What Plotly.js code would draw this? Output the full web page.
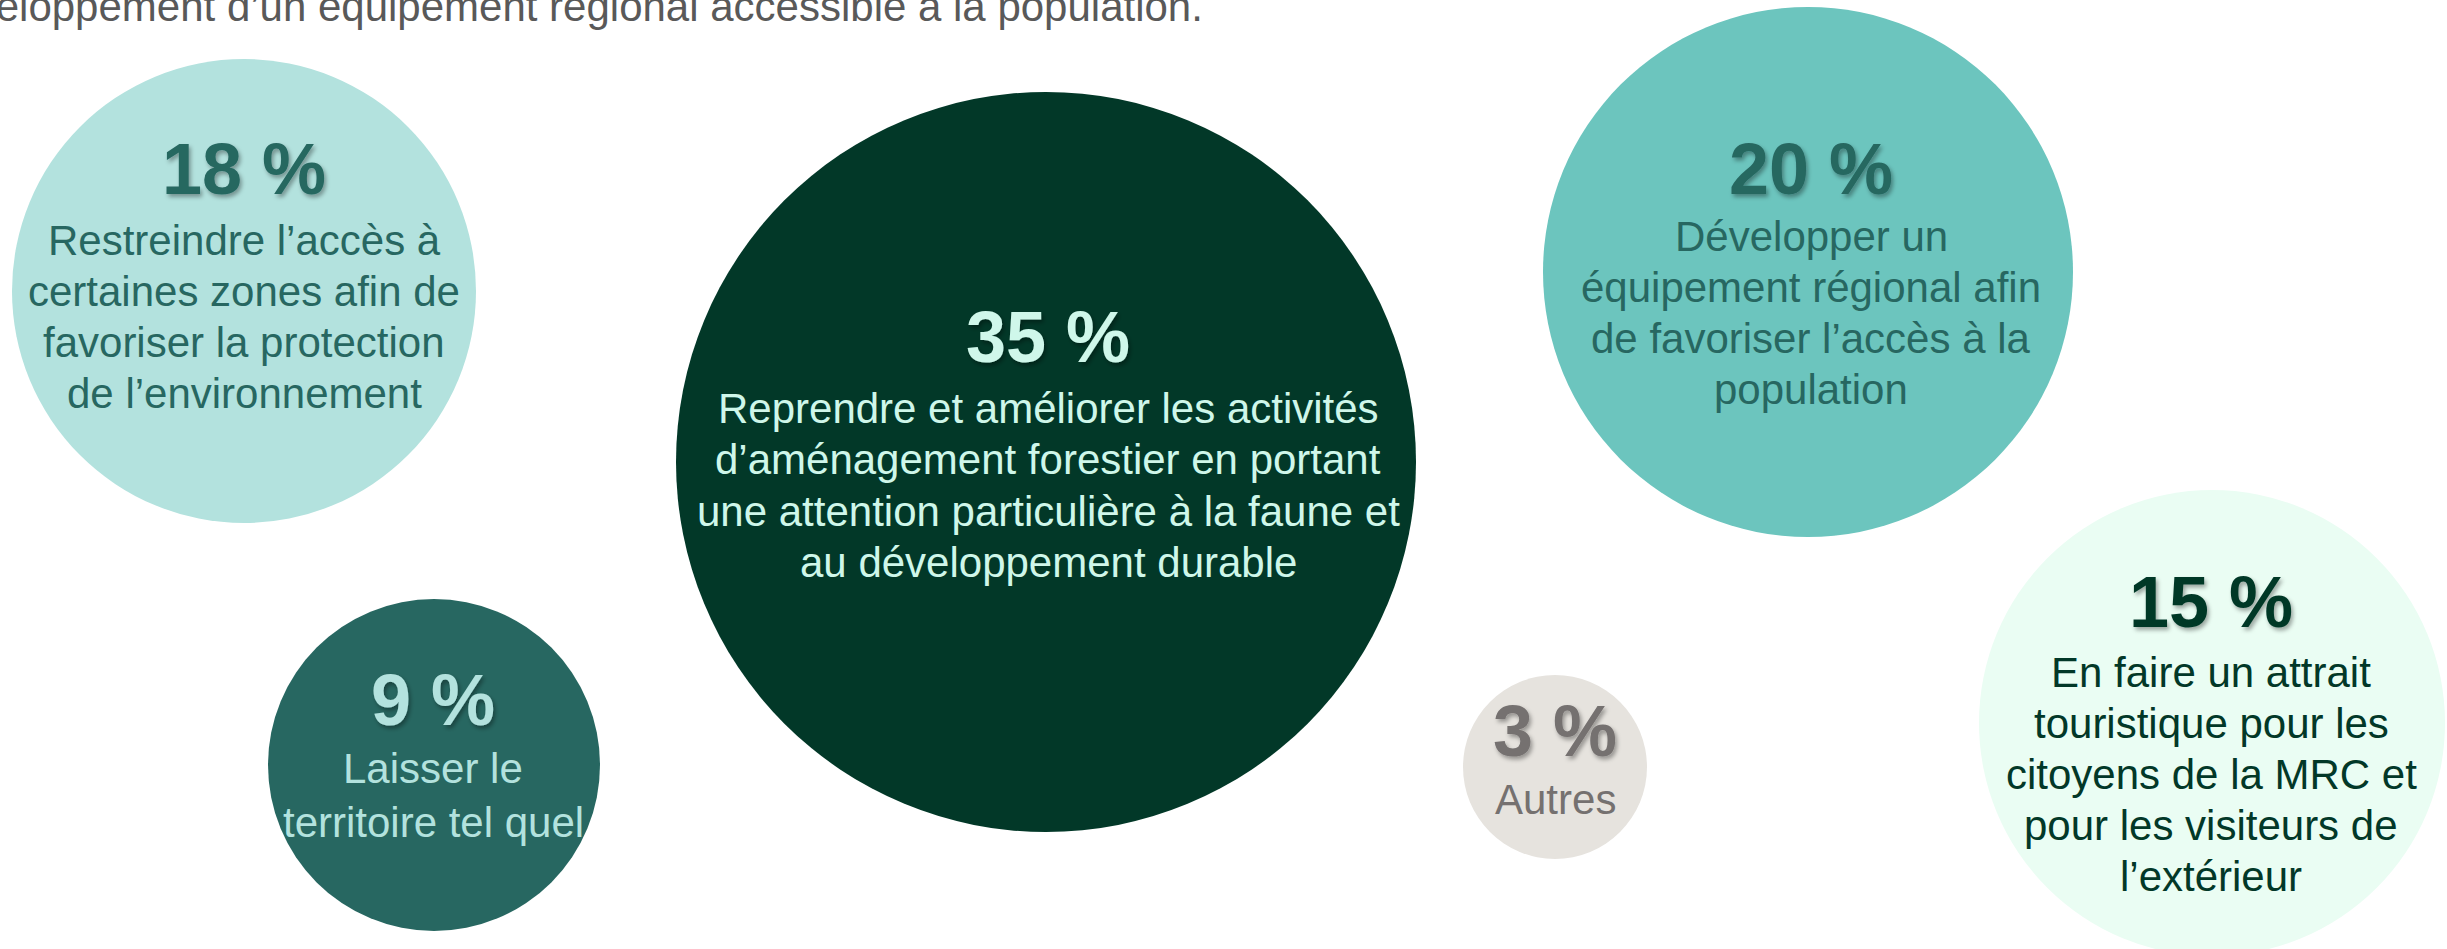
<!DOCTYPE html>
<html>
<head>
<meta charset="utf-8">
<script src="https://cdn.plot.ly/plotly-3.0.1.min.js"></script>
<style>
  html, body { margin: 0; padding: 0; background: #ffffff; overflow: hidden; }
  #chart { width: 2447px; height: 949px; }
</style>
</head>
<body>
<div id="chart"></div>
<script>
// ---------- DATA ----------
const values = [18, 35, 20, 9, 3, 15];
const categories = [
  "Restreindre l’accès à<br>certaines zones afin de<br>favoriser la protection<br>de l’environnement",
  "Reprendre et améliorer les activités<br>d’aménagement forestier en portant<br>une attention particulière à la faune et<br>au développement durable",
  "Développer un<br>équipement régional afin<br>de favoriser l’accès à la<br>population",
  "Laisser le<br>territoire tel quel",
  "Autres",
  "En faire un attrait<br>touristique pour les<br>citoyens de la MRC et<br>pour les visiteurs de<br>l’extérieur"
];
const headerText = "développement d’un équipement régional accessible à la population.";

// ---------- LAYOUT (positions, sizes, styles) ----------
const W = 2447, H = 949;
const bubbleX = [244, 1046, 1808, 434, 1555, 2212];
const bubbleY = [291, 462, 272, 765, 767, 723];
const bubbleD = [464, 740, 530, 332, 184, 466];
const textX   = [244, 1048, 1811, 433, 1555, 2211];
const numBase = [194, 362, 194, 725, 756, 627];
const bodyBase = [255, 423, 251, 783, 814, 687];
const bodyPitch = [51, 51.5, 51, 54, 51, 51];
const fillColors = ["#B3E2DE", "#023828", "#6CC5BE", "#276761", "#E6E3DE", "#EAFDF3"];
const textColors = ["#276761", "#CFF7EA", "#276761", "#B3E2DE", "#757170", "#023828"];
const FONT = "'Liberation Sans', Arial, Helvetica, sans-serif";
const NUM_SIZE = 72, BODY_SIZE = 42;
const MID = 0.3465; // baseline -> middle of text box (em)

const trace = {
  type: 'scatter',
  mode: 'markers',
  x: bubbleX,
  y: bubbleY,
  text: values.map(v => v + ' %'),
  hoverinfo: 'skip',
  cliponaxis: false,
  marker: {
    size: bubbleD,
    sizemode: 'diameter',
    sizeref: 1,
    color: fillColors,
    opacity: 1,
    line: { width: 0 }
  }
};

const annotations = [];
const numIdx = [];

// header line (cut off at top-left, as in the reference)
annotations.push({
  text: headerText,
  x: 1205, y: 21 - MID * BODY_SIZE,
  xref: 'x', yref: 'y',
  xanchor: 'right', yanchor: 'middle',
  showarrow: false,
  font: { family: FONT, size: BODY_SIZE, color: '#595959' }
});

values.forEach((v, i) => {
  numIdx.push(annotations.length);
  annotations.push({
    text: '<b>' + v + ' %</b>',
    x: textX[i], y: numBase[i] - MID * NUM_SIZE,
    xref: 'x', yref: 'y',
    xanchor: 'center', yanchor: 'middle',
    showarrow: false,
    font: { family: FONT, size: NUM_SIZE, color: textColors[i] }
  });
  categories[i].split('<br>').forEach((line, k) => {
    annotations.push({
      text: line,
      x: textX[i], y: bodyBase[i] + k * bodyPitch[i] - MID * BODY_SIZE,
      xref: 'x', yref: 'y',
      xanchor: 'center', yanchor: 'middle',
      showarrow: false,
      font: { family: FONT, size: BODY_SIZE, color: textColors[i] }
    });
  });
});

const layout = {
  width: W, height: H,
  margin: { l: 0, r: 0, t: 0, b: 0, pad: 0 },
  paper_bgcolor: '#ffffff',
  plot_bgcolor: '#ffffff',
  showlegend: false,
  xaxis: { range: [0, W], visible: false, fixedrange: true, showgrid: false, zeroline: false },
  yaxis: { range: [H, 0], visible: false, fixedrange: true, showgrid: false, zeroline: false },
  annotations: annotations,
  hovermode: false
};

Plotly.newPlot('chart', [trace], layout, { staticPlot: true, displayModeBar: false }).then(() => {
  const ns = 'http://www.w3.org/2000/svg';
  const svg = document.querySelector('#chart svg.main-svg');
  let defs = svg.querySelector('defs');
  if (!defs) { defs = document.createElementNS(ns, 'defs'); svg.insertBefore(defs, svg.firstChild); }
  const f = document.createElementNS(ns, 'filter');
  f.setAttribute('id', 'numShadow');
  f.setAttribute('x', '-20%'); f.setAttribute('y', '-30%');
  f.setAttribute('width', '150%'); f.setAttribute('height', '170%');
  const ds = document.createElementNS(ns, 'feDropShadow');
  ds.setAttribute('dx', '2'); ds.setAttribute('dy', '3');
  ds.setAttribute('stdDeviation', '2');
  ds.setAttribute('flood-color', '#000000');
  ds.setAttribute('flood-opacity', '0.35');
  f.appendChild(ds);
  defs.appendChild(f);
  document.querySelectorAll('#chart g.annotation').forEach(g => {
    const idx = parseInt(g.getAttribute('data-index'), 10);
    if (numIdx.indexOf(idx) >= 0) {
      const t = g.querySelector('text');
      if (t) t.setAttribute('filter', 'url(#numShadow)');
    }
  });
});
</script>
</body>
</html>
